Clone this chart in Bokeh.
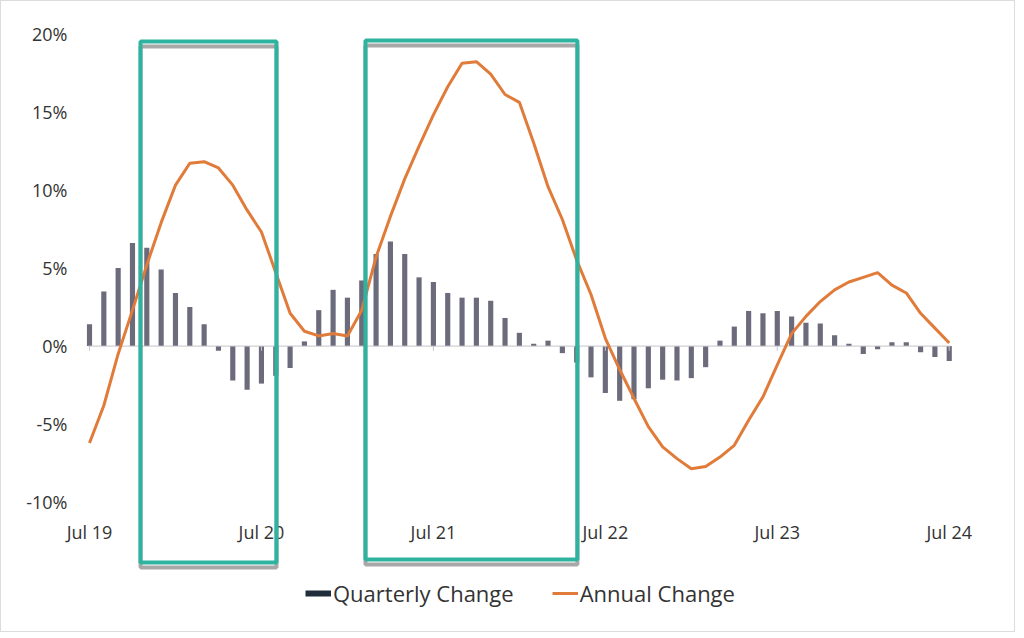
import pandas as pd
from bokeh.plotting import figure
from bokeh.models import Range1d, FixedTicker, PrintfTickFormatter, Legend, LegendItem, ColumnDataSource
from bokeh.core.properties import value
from bokeh.embed import file_html
from bokeh.resources import INLINE

# ---- data (monthly, Jul 2019 .. Jul 2024) ----
months = [d.strftime("%b %y") for d in pd.date_range("2019-07-01", "2024-07-01", freq="MS")]

quarterly_change = [
    1.4, 3.5, 5.0, 6.6, 6.3, 4.9, 3.4, 2.5, 1.4, -0.3, -2.2, -2.8,
    -2.4, -1.9, -1.4, 0.3, 2.3, 3.6, 3.1, 4.2, 5.9, 6.7, 5.9, 4.4,
    4.1, 3.4, 3.1, 3.1, 2.9, 1.8, 0.85, 0.15, 0.35, -0.45, -1.05, -2.0,
    -3.0, -3.5, -3.4, -2.7, -2.15, -2.2, -2.05, -1.35, 0.35, 1.25, 2.25, 2.1,
    2.25, 1.9, 1.5, 1.45, 0.7, 0.15, -0.5, -0.2, 0.25, 0.25, -0.4, -0.7,
    -0.95,
]

annual_change = [
    -6.2, -3.8, -0.5, 2.3, 5.2, 7.9, 10.3, 11.7, 11.8, 11.4, 10.3, 8.7,
    7.3, 4.7, 2.1, 0.95, 0.65, 0.8, 0.65, 2.3, 5.7, 8.3, 10.7, 12.8,
    14.8, 16.6, 18.1, 18.2, 17.4, 16.1, 15.6, 13.0, 10.2, 8.1, 5.5, 3.3,
    0.5, -1.5, -3.35, -5.15, -6.45, -7.2, -7.85, -7.7, -7.1, -6.35, -4.75, -3.25,
    -1.2, 0.8, 1.9, 2.85, 3.6, 4.1, 4.4, 4.7, 3.9, 3.4, 2.1, 1.15,
    0.2,
]

x_tick_labels = ["Jul 19", "Jul 20", "Jul 21", "Jul 22", "Jul 23", "Jul 24"]
y_ticks = [-10, -5, 0, 5, 10, 15, 20]

# highlighted periods (in month index from Jul 19) and vertical extent (%)
highlight_left = [3.56, 19.26]
highlight_right = [13.05, 34.05]
highlight_top = [19.49, 19.55]
highlight_bottom = [-13.85, -13.65]

x = list(range(len(months)))
x_tick_pos = [months.index(lbl) for lbl in x_tick_labels]

FONT = "Open Sans"
TXT = "#333333"

p = figure(width=1015, height=632,
           x_range=Range1d(-1.954, 62.88), y_range=Range1d(-17.88, 20.9),
           output_backend="svg", toolbar_location=None,
           min_border_left=60, min_border_right=26, min_border_top=18, min_border_bottom=8)
p.styles = {"border": "1px solid #dcdcdc", "box-sizing": "border-box"}

p.outline_line_color = None
p.xgrid.visible = False
p.ygrid.visible = False
p.xaxis.visible = False

p.yaxis.ticker = FixedTicker(ticks=y_ticks)
p.yaxis.formatter = PrintfTickFormatter(format="%d%%")
p.yaxis.axis_line_color = None
p.yaxis.major_tick_line_color = None
p.yaxis.minor_tick_line_color = None
p.yaxis.major_tick_out = 0
p.yaxis.major_tick_in = 0
p.yaxis.minor_tick_out = 0
p.yaxis.major_label_text_font = FONT
p.yaxis.major_label_text_font_size = "18px"
p.yaxis.major_label_text_color = TXT
p.yaxis.major_label_standoff = -6

src = ColumnDataSource(dict(x=x, q=quarterly_change, a=annual_change))

# bars
p.vbar(x="x", top="q", bottom=0, width=0.36, source=src,
       fill_color="#6b6b7b", line_color=None)

# zero baseline + small year ticks
p.line(x=[-0.1, 60.1], y=[0, 0], line_color="#c4c4cc", line_width=1)
p.segment(x0=x_tick_pos, y0=[0] * len(x_tick_pos), x1=x_tick_pos, y1=[-0.3] * len(x_tick_pos),
          line_color="#c4c4cc", line_width=1)

# annual change line
line_r = p.line(x="x", y="a", source=src, line_color="#e07b3a", line_width=3)

# x tick labels
p.text(x=x_tick_pos, y=[-11.9] * len(x_tick_pos), text=x_tick_labels,
       text_align="center", text_baseline="middle",
       text_font=value(FONT), text_font_size="18px", text_color=TXT)

# highlight boxes with a subtle drop shadow
shift = 0.32
p.quad(left=highlight_left, right=highlight_right,
       top=[t - shift for t in highlight_top], bottom=[b - shift for b in highlight_bottom],
       fill_color=None, line_color="#7a7a7a", line_alpha=0.65, line_width=4)
p.quad(left=highlight_left, right=highlight_right, top=highlight_top, bottom=highlight_bottom,
       fill_color=None, line_color="#2db39f", line_width=4)

# legend (dummy swatch for the dark bar key)
bar_key = p.line(x=[float("nan")], y=[float("nan")], line_color="#1f2e3a", line_width=6)
legend = Legend(items=[LegendItem(label="Quarterly Change", renderers=[bar_key]),
                       LegendItem(label="Annual Change", renderers=[line_r])],
                orientation="horizontal", location=(244, 17),
                border_line_color=None, background_fill_alpha=0,
                label_text_font=FONT, label_text_font_size="22px", label_text_color=TXT,
                glyph_width=26, glyph_height=20, label_standoff=2, spacing=38,
                padding=0, margin=0)
p.add_layout(legend)

open("out.html", "w").write(file_html(p, INLINE))
